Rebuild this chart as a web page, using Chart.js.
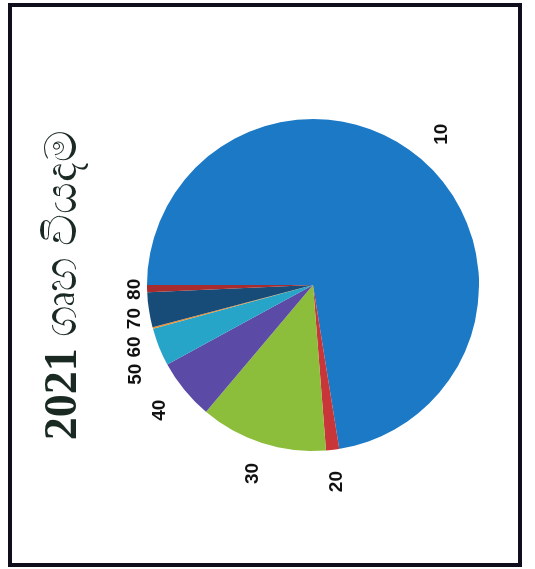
<!DOCTYPE html>
<html>
<head>
<meta charset="utf-8">
<script src="https://cdn.jsdelivr.net/npm/chart.js@4.4.0/dist/chart.umd.min.js"></script>
<style>
  body { margin: 0; background: #fff; width: 535px; height: 569px; overflow: hidden; position: relative; }
  #frame { position: absolute; left: 8px; top: 3px; width: 514px; height: 564px; box-sizing: border-box; border: 4px solid #0e0e1c; }
  #wrap { position: absolute; left: 12px; top: 7px; width: 556px; height: 506px;
          transform-origin: 0 0; transform: translateY(556px) rotate(-90deg); }
</style>
</head>
<body>
<div id="frame"></div>
<div id="wrap"><canvas id="myChart" width="556" height="506"></canvas></div>
<script>
var titleYear = '2021';
var titleWords = 'ගෘහ වියදම';
var categories = ['10', '20', '30', '40', '50', '60', '70', '80'];
var shares = [72.5, 1.3, 12.4, 5.9, 3.7, 0.15, 3.4, 0.7];
var colors = ['#1b79c6', '#c9363a', '#8cbd3b', '#5b4aa6', '#27a5c8', '#f0902c', '#174b78', '#a82c2e'];

// title: bold year + regular sinhala words, centred above the pie
var twoPartTitle = {
    id: 'twoPartTitle',
    afterDraw: function (chart) {
        var ctx = chart.ctx;
        var yearFont = 'bold 46px "Liberation Serif", "Times New Roman", serif';
        var wordFont = '44px "Liberation Serif", "Times New Roman", serif';
        ctx.save();
        ctx.font = yearFont;
        var w1 = ctx.measureText(titleYear + ' ').width;
        ctx.font = wordFont;
        var w2 = ctx.measureText(titleWords).width;
        var x = chart.width / 2 - (w1 + w2) / 2;
        var y = 52;
        ctx.fillStyle = '#1a2a22';
        ctx.textBaseline = 'middle';
        ctx.textAlign = 'left';
        ctx.font = yearFont;
        ctx.fillText(titleYear, x, y);
        ctx.font = wordFont;
        ctx.fillText(titleWords, x + w1, y);
        ctx.restore();
    }
};

// outside labels, small slices spread apart and kept below the plot top
var outsideLabels = {
    id: 'outsideLabels',
    afterDatasetsDraw: function (chart) {
        var ctx = chart.ctx;
        var arcs = chart.getDatasetMeta(0).data;
        var angles = arcs.map(function (a) { return (a.startAngle + a.endAngle) / 2; });
        var minSep = 8.5 * Math.PI / 180;
        for (var i = angles.length - 2; i >= 0; i--) {
            if (angles[i] > angles[i + 1] - minSep) angles[i] = angles[i + 1] - minSep;
        }
        var topRow = chart.chartArea.top - 12;
        ctx.save();
        ctx.font = 'bold 19px "Liberation Sans", Arial, sans-serif';
        ctx.fillStyle = '#111';
        ctx.textAlign = 'center';
        ctx.textBaseline = 'middle';
        arcs.forEach(function (a, i) {
            var d = a.outerRadius + 32;
            var lx = a.x + d * Math.cos(angles[i]);
            var ly = Math.max(a.y + d * Math.sin(angles[i]), topRow);
            ctx.fillText(categories[i], lx, ly);
        });
        ctx.restore();
    }
};

var ctx = document.getElementById('myChart').getContext('2d');
var myChart = new Chart(ctx, {
    type: 'pie',
    data: {
        labels: categories,
        datasets: [{ data: shares, backgroundColor: colors, borderWidth: 0 }]
    },
    options: {
        responsive: false,
        animation: false,
        layout: { padding: { top: 135, bottom: 39, left: 20, right: 20 } },
        plugins: {
            legend: { display: false },
            tooltip: { enabled: false },
            title: { display: false }
        }
    },
    plugins: [outsideLabels, twoPartTitle]
});
</script>
</body>
</html>
